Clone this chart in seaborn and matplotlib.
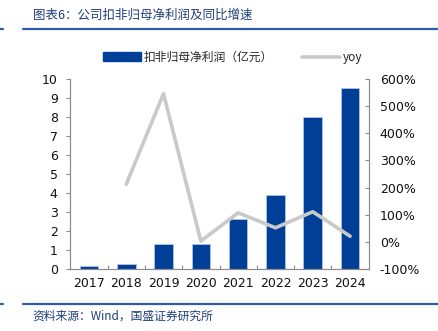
import matplotlib
matplotlib.use("Agg")
import matplotlib.pyplot as plt
import seaborn as sns
import numpy as np
import pandas as pd
from matplotlib.patches import Patch
from matplotlib.lines import Line2D
from matplotlib.ticker import FuncFormatter, MultipleLocator

years = ["2017", "2018", "2019", "2020", "2021", "2022", "2023", "2024"]
profit = [0.15, 0.28, 1.33, 1.33, 2.62, 3.88, 8.0, 9.52]
yoy = [np.nan, 2.12, 5.45, 0.03, 1.07, 0.52, 1.11, 0.21]
bar_label = "扣非归母净利润（亿元）"
line_label = "yoy"
title = "图表6：公司扣非归母净利润及同比增速"
source = "资料来源：Wind，国盛证券研究所"

sns.set_theme(style="white")
plt.rcParams['font.family'] = ['DejaVu Sans', 'Noto Sans CJK SC']

BLUE = "#003F98"
GRAY = "#C9C9C9"
AX = "#8C8C8C"

fig = plt.figure(figsize=(4.39, 3.31), dpi=100)
ax = fig.add_axes([0.160, 0.187, 0.680, 0.575])

df = pd.DataFrame({"year": years, "profit": profit, "yoy": yoy})
df["pos"] = np.arange(len(df))

sns.barplot(data=df, x="year", y="profit", color=BLUE, width=0.5,
            saturation=1, ax=ax, edgecolor="#AFC4E6", linewidth=0.6)
ax.set_ylim(0, 10)
ax.yaxis.set_major_locator(MultipleLocator(1))
ax.set_xlim(-0.5, len(years) - 0.5)
ax.set_xlabel("")
ax.set_ylabel("")

ax2 = ax.twinx()
sns.lineplot(data=df, x="pos", y="yoy", color=GRAY, linewidth=2.6, ax=ax2)
ax2.set_ylim(-1, 6)
ax2.yaxis.set_major_locator(MultipleLocator(1))
ax2.yaxis.set_major_formatter(FuncFormatter(lambda v, p: f"{v*100:.0f}%"))
ax2.set_ylabel("")
ax2.set_xlabel("")
ax.set_xlim(-0.5, len(years) - 0.5)

for a in (ax, ax2):
    for s in a.spines.values():
        s.set_color(AX)
        s.set_linewidth(0.8)
    a.spines["top"].set_visible(False)

ax.tick_params(axis="y", which="major", direction="out", length=3, width=0.8,
               color=AX, left=True, labelsize=9, labelcolor="#111111", pad=6)
ax.set_xticks(np.arange(len(years)))
ax.set_xticklabels(years)
ax.tick_params(axis="x", which="major", length=0, labelsize=9,
               labelcolor="#111111", pad=6)
ax.set_xticks(np.arange(len(years) - 1) + 0.5, minor=True)
ax.tick_params(axis="x", which="minor", direction="in", length=3, width=0.8,
               color=AX, bottom=True)
ax2.tick_params(axis="y", direction="in", length=3, width=0.8, color=AX,
                right=True, labelsize=9, labelcolor="#111111", pad=8)
ax2.tick_params(axis="x", bottom=False, labelbottom=False)
ax.grid(False)
ax2.grid(False)

handles = [Patch(facecolor=BLUE, edgecolor=BLUE),
           Line2D([0], [0], color=GRAY, linewidth=2.6)]
fig.legend(handles, [bar_label, line_label], loc="center",
           bbox_to_anchor=(0.53, 0.827), ncol=2, frameon=False,
           fontsize=8.5, handlelength=3.2, handletextpad=0.2,
           columnspacing=2.5, prop={"family": ['Noto Sans CJK SC', 'DejaVu Sans'], "size": 8.5})

fig.text(0.075, 0.955, title, fontsize=9, color="#1F3E7A", style="italic",
         family=['Noto Sans CJK SC', 'DejaVu Sans'], ha="left", va="center")
fig.text(0.075, 0.045, source, fontsize=8.5, color="#1F3E7A", style="italic",
         family=['Noto Sans CJK SC', 'DejaVu Sans'], ha="left", va="center")

for yy in (0.912, 0.082):
    fig.add_artist(Line2D([0.052, 1.0], [yy, yy], transform=fig.transFigure,
                          color="#2E5DA8", linewidth=1.6))
    fig.add_artist(Line2D([0.0, 0.007], [yy, yy], transform=fig.transFigure,
                          color="#2E5DA8", linewidth=1.6))

fig.savefig("out.png", dpi=100)
